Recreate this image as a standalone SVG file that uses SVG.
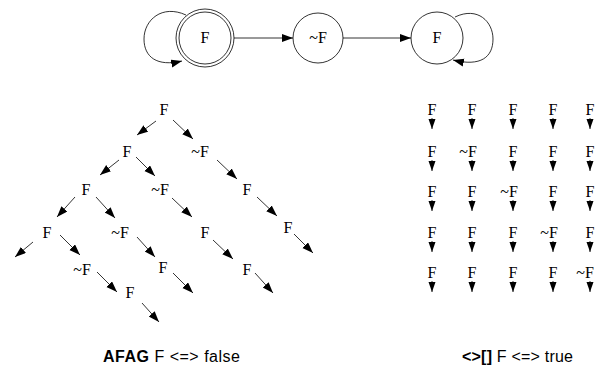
<svg xmlns="http://www.w3.org/2000/svg" width="596" height="366" viewBox="0 0 596 366">
<style>
.lbl{font-family:"Liberation Serif","Times New Roman",serif;font-size:16px;fill:#000;text-anchor:middle}
.cap{font-family:"Liberation Sans",Arial,sans-serif;font-size:16px;fill:#000}
.st{fill:none;stroke:#000;stroke-width:0.8}
.e{fill:none;stroke:#000;stroke-width:0.8;marker-end:url(#ah)}
.eb{fill:none;stroke:#000;stroke-width:0.8;marker-end:url(#ahs)}
</style>
<defs>
<marker id="ah" markerUnits="userSpaceOnUse" markerWidth="12" markerHeight="9" refX="11" refY="4" orient="auto"><path d="M0,0 L11,4 L0,8 z" fill="#000"/></marker>
<marker id="ahs" markerUnits="userSpaceOnUse" markerWidth="11" markerHeight="8" refX="10" refY="3.5" orient="auto"><path d="M0,0 L10,3.5 L0,7 z" fill="#000"/></marker>
</defs>
<rect width="596" height="366" fill="#fff"/>

<g id="connectors">
<!-- top automaton -->
<path class="e" d="M186,15 C162,4 144,20 144,39 C144,57 157,67 182,61"/>
<line class="e" x1="234" y1="38" x2="293" y2="38"/>
<line class="e" x1="343" y1="38" x2="411" y2="38"/>
<path class="e" d="M455,17 C478,6 493,22 493,39 C493,57 481,67 453,60"/>
<!-- tree -->
<line class="e" x1="156" y1="121" x2="137" y2="135"/>
<line class="e" x1="173" y1="120" x2="193" y2="139"/>
<line class="e" x1="119" y1="160" x2="100" y2="175"/>
<line class="e" x1="136" y1="157" x2="155" y2="176"/>
<line class="e" x1="217" y1="160" x2="237" y2="179"/>
<line class="e" x1="75" y1="197" x2="57" y2="217"/>
<line class="e" x1="96" y1="197" x2="115" y2="218"/>
<line class="e" x1="172" y1="198" x2="192" y2="217"/>
<line class="e" x1="257" y1="197" x2="277" y2="216"/>
<line class="e" x1="33" y1="242" x2="15" y2="257"/>
<line class="e" x1="60" y1="235" x2="80" y2="255"/>
<line class="e" x1="137" y1="237" x2="155" y2="257"/>
<line class="e" x1="213" y1="240" x2="233" y2="259"/>
<line class="e" x1="294" y1="234" x2="313" y2="253"/>
<line class="e" x1="97" y1="272" x2="117" y2="292"/>
<line class="e" x1="173" y1="273" x2="193" y2="293"/>
<line class="e" x1="255" y1="273" x2="273" y2="293"/>
<line class="e" x1="142" y1="303" x2="159" y2="322"/>
<!-- grid -->
<g class="eb">
<line x1="432" y1="118" x2="432" y2="129"/><line x1="472" y1="118" x2="472" y2="129"/><line x1="513" y1="118" x2="513" y2="129"/><line x1="553" y1="118" x2="553" y2="129"/><line x1="590" y1="118" x2="590" y2="129"/>
<line x1="432" y1="160" x2="432" y2="171"/><line x1="472" y1="160" x2="472" y2="171"/><line x1="513" y1="160" x2="513" y2="171"/><line x1="553" y1="160" x2="553" y2="171"/><line x1="590" y1="160" x2="590" y2="171"/>
<line x1="432" y1="200" x2="432" y2="211"/><line x1="472" y1="200" x2="472" y2="211"/><line x1="513" y1="200" x2="513" y2="211"/><line x1="553" y1="200" x2="553" y2="211"/><line x1="590" y1="200" x2="590" y2="211"/>
<line x1="432" y1="241" x2="432" y2="252"/><line x1="472" y1="241" x2="472" y2="252"/><line x1="513" y1="241" x2="513" y2="252"/><line x1="553" y1="241" x2="553" y2="252"/><line x1="590" y1="241" x2="590" y2="252"/>
<line x1="432" y1="281" x2="432" y2="292"/><line x1="472" y1="281" x2="472" y2="292"/><line x1="513" y1="281" x2="513" y2="292"/><line x1="553" y1="281" x2="553" y2="292"/><line x1="590" y1="281" x2="590" y2="292"/>
</g>
</g>

<g id="n_s0"><circle class="st" cx="205" cy="38" r="29"/><circle class="st" cx="205" cy="38" r="26"/><text class="lbl" x="205" y="43">F</text></g>
<g id="n_s1"><circle class="st" cx="318" cy="38" r="25"/><text class="lbl" x="318" y="43">~F</text></g>
<g id="n_s2"><circle class="st" cx="437" cy="38" r="26"/><text class="lbl" x="437" y="43">F</text></g>

<g id="tree">
<g id="t0"><text class="lbl" x="164" y="115">F</text></g>
<g id="t1"><text class="lbl" x="127" y="157">F</text></g>
<g id="t2"><text class="lbl" x="200" y="157">~F</text></g>
<g id="t3"><text class="lbl" x="86" y="195">F</text></g>
<g id="t4"><text class="lbl" x="160" y="195">~F</text></g>
<g id="t5"><text class="lbl" x="247" y="195">F</text></g>
<g id="t6"><text class="lbl" x="47" y="238">F</text></g>
<g id="t7"><text class="lbl" x="120" y="238">~F</text></g>
<g id="t8"><text class="lbl" x="205" y="238">F</text></g>
<g id="t9"><text class="lbl" x="288" y="233">F</text></g>
<g id="t10"><text class="lbl" x="82" y="275">~F</text></g>
<g id="t11"><text class="lbl" x="163" y="273">F</text></g>
<g id="t12"><text class="lbl" x="247" y="275">F</text></g>
<g id="t13"><text class="lbl" x="130" y="298">F</text></g>
</g>

<g id="grid">
<g id="g11"><text class="lbl" x="432" y="115">F</text></g><g id="g12"><text class="lbl" x="472" y="115">F</text></g><g id="g13"><text class="lbl" x="513" y="115">F</text></g><g id="g14"><text class="lbl" x="553" y="115">F</text></g><g id="g15"><text class="lbl" x="590" y="115">F</text></g>
<g id="g21"><text class="lbl" x="432" y="157">F</text></g><g id="g22"><text class="lbl" x="468" y="157">~F</text></g><g id="g23"><text class="lbl" x="513" y="157">F</text></g><g id="g24"><text class="lbl" x="553" y="157">F</text></g><g id="g25"><text class="lbl" x="590" y="157">F</text></g>
<g id="g31"><text class="lbl" x="432" y="197">F</text></g><g id="g32"><text class="lbl" x="472" y="197">F</text></g><g id="g33"><text class="lbl" x="509" y="197">~F</text></g><g id="g34"><text class="lbl" x="553" y="197">F</text></g><g id="g35"><text class="lbl" x="590" y="197">F</text></g>
<g id="g41"><text class="lbl" x="432" y="238">F</text></g><g id="g42"><text class="lbl" x="472" y="238">F</text></g><g id="g43"><text class="lbl" x="513" y="238">F</text></g><g id="g44"><text class="lbl" x="549" y="238">~F</text></g><g id="g45"><text class="lbl" x="590" y="238">F</text></g>
<g id="g51"><text class="lbl" x="432" y="278">F</text></g><g id="g52"><text class="lbl" x="472" y="278">F</text></g><g id="g53"><text class="lbl" x="513" y="278">F</text></g><g id="g54"><text class="lbl" x="553" y="278">F</text></g><g id="g55"><text class="lbl" x="585" y="278">~F</text></g>
</g>

<g id="captions">
<text class="cap" x="103" y="362" textLength="137" lengthAdjust="spacing"><tspan font-weight="bold">AFAG</tspan> F &lt;=&gt; false</text>
<text class="cap" x="462" y="362" textLength="111" lengthAdjust="spacing"><tspan font-weight="bold">&lt;&gt;[]</tspan> F &lt;=&gt; true</text>
</g>
</svg>
